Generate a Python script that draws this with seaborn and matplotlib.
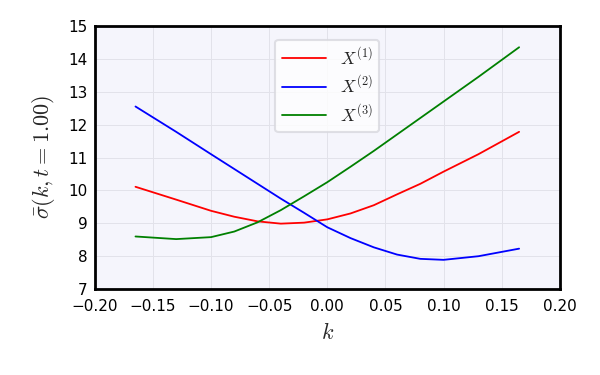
import matplotlib
matplotlib.use("Agg")
import matplotlib.pyplot as plt
import pandas as pd
import seaborn as sns

# strikes (log-moneyness) and implied vol values
k = [-0.165, -0.13, -0.10, -0.08, -0.06, -0.04, -0.02, 0.0,
     0.02, 0.04, 0.06, 0.08, 0.10, 0.13, 0.165]
x1 = [10.11, 9.72, 9.38, 9.20, 9.06, 8.99, 9.02, 9.12,
      9.30, 9.55, 9.88, 10.20, 10.57, 11.10, 11.78]
x2 = [12.55, 11.78, 11.10, 10.65, 10.20, 9.75, 9.32, 8.88,
      8.55, 8.27, 8.05, 7.92, 7.89, 8.00, 8.23]
x3 = [8.60, 8.52, 8.58, 8.75, 9.03, 9.40, 9.82, 10.25,
      10.72, 11.20, 11.70, 12.20, 12.70, 13.45, 14.35]
labels = [r"$X^{(1)}$", r"$X^{(2)}$", r"$X^{(3)}$"]
colors = ["red", "blue", "green"]

df = pd.DataFrame({
    "k": k * 3,
    "sigma": x1 + x2 + x3,
    "series": [labels[0]] * len(k) + [labels[1]] * len(k) + [labels[2]] * len(k),
})

sns.set_style("whitegrid")
plt.rcParams["font.family"] = ["DejaVu Sans"]
plt.rcParams["mathtext.fontset"] = "cm"

fig = plt.figure(figsize=(6, 3.75), dpi=100)
ax = fig.add_axes([0.158, 0.229, 0.775, 0.702])
sns.lineplot(data=df, x="k", y="sigma", hue="series",
             palette=dict(zip(labels, colors)), linewidth=1.3, ax=ax)

ax.set_facecolor("#f5f5fc")
ax.grid(True, color="#e2e2ea", linewidth=0.7)
for s in ax.spines.values():
    s.set_color("black")
    s.set_linewidth(2)
ax.set_xlim(-0.2, 0.2)
ax.set_ylim(7, 15)
ax.set_xticks([-0.2, -0.15, -0.1, -0.05, 0, 0.05, 0.1, 0.15, 0.2])
ax.set_yticks(range(7, 16))
ax.xaxis.set_major_formatter(matplotlib.ticker.FuncFormatter(
    lambda v, p: f"{v:.2f}".replace("-", "\u2212") if abs(v) > 1e-9 else "0.00"))
ax.tick_params(length=0, labelsize=11, colors="black")
ax.tick_params(axis="x", pad=7)
ax.tick_params(axis="y", pad=5)
ax.set_xlabel(r"$k$", fontsize=16, labelpad=6)
ax.set_ylabel(r"$\bar{\sigma}(k, t = 1.00)$", fontsize=16, labelpad=8)

leg = ax.legend(loc="upper center", fontsize=12.5, frameon=True, fancybox=True,
                framealpha=0.8, edgecolor="#d8d8de", borderpad=0.4,
                labelspacing=0.4, borderaxespad=0.8, handlelength=2.5)
leg.get_frame().set_linewidth(1.5)

fig.savefig("out.png", dpi=100)
